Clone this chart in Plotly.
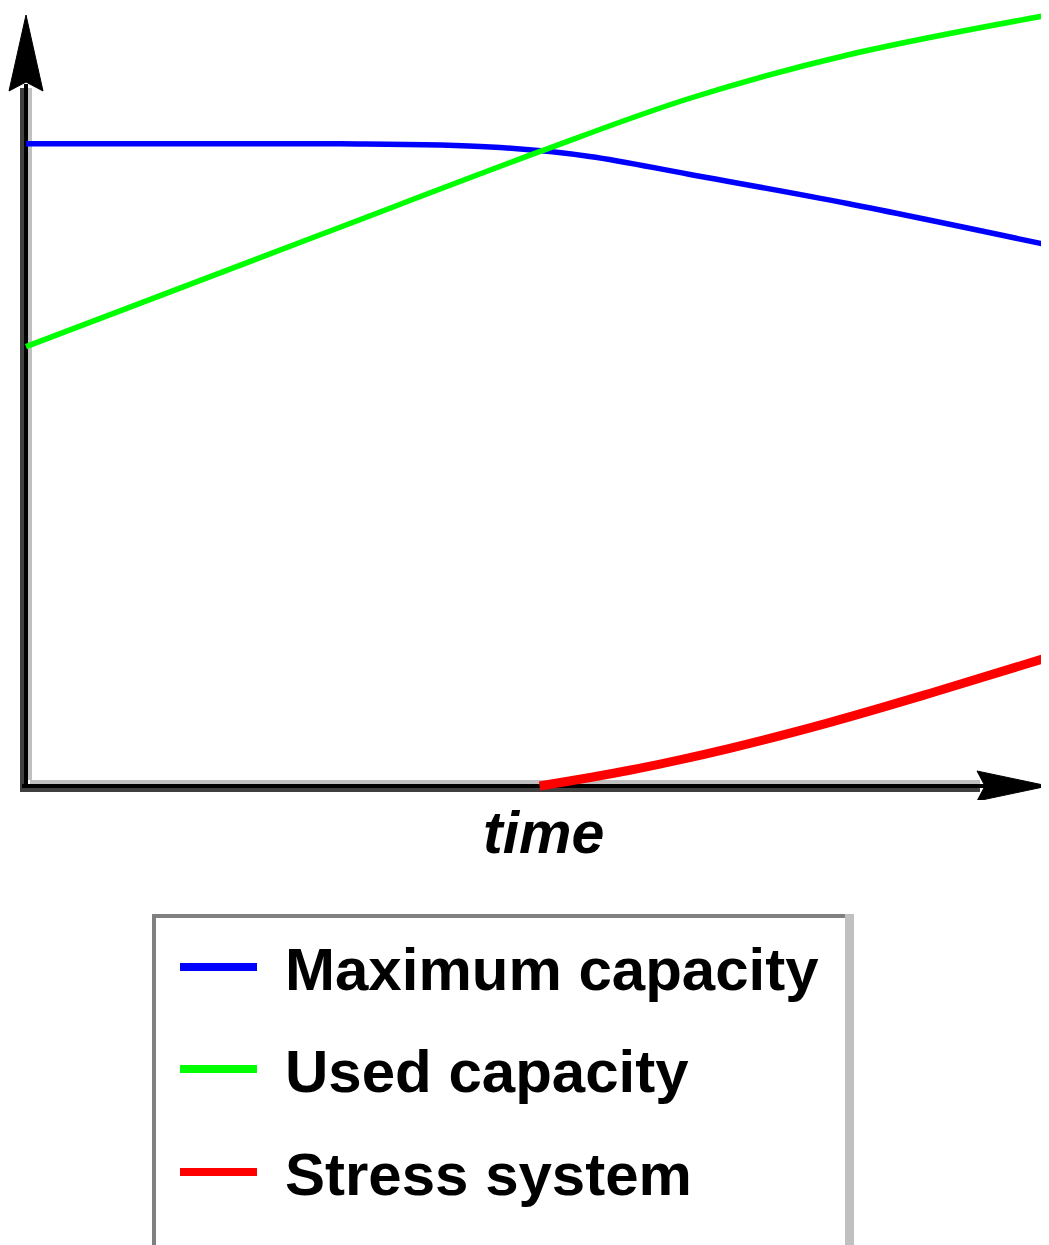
import plotly.graph_objects as go

# ---------------- data ----------------
time_max = [0, 17.0, 30.7, 45.4, 55.1, 64.9, 80.3, 100]
max_capacity = [81.7, 81.7, 81.7, 81.3, 80.1, 77.8, 74.1, 68.8]

time_used = [0, 28.7, 50.2, 64.9, 80.3, 100]
used_capacity = [55.9, 70.1, 80.7, 87.5, 93.0, 98.1]

time_stress = [50.2, 59.0, 68.8, 78.6, 88.4, 100]
stress_system = [0, 2.0, 4.8, 8.1, 11.8, 16.4]

series_names = ["Maximum capacity", "Used capacity", "Stress system"]
series_colors = ["#0000ff", "#00ff00", "#ff0000"]
series_widths = [5.5, 5.5, 9]
x_label = "time"

# ---------------- geometry (page pixels; page body has an 8px margin) ----------------
OFF = 8
W, H = 1049 - OFF, 1245 - OFF
PLOT_TOP, PLOT_BOTTOM = OFF, 800          # page px of the plot area
X0PX, XPPU = 26, 10.23                    # page px of x = 0, px per unit
Y0PX, YPPU = 786, 7.86                    # page px of y = 0, px per unit


def xd(px):
    return (px - X0PX) / XPPU


def yd(py):
    return (Y0PX - py) / YPPU


def xp(px):
    return (px - OFF) / W


def yp(py):
    return (PLOT_BOTTOM - py) / (PLOT_BOTTOM - PLOT_TOP)


FONT = "Liberation Sans, Arial, sans-serif"

fig = go.Figure()
for xs, ys, name, col, lw in zip(
    [time_max, time_used, time_stress],
    [max_capacity, used_capacity, stress_system],
    series_names, series_colors, series_widths,
):
    fig.add_trace(go.Scatter(
        x=xs, y=ys, mode="lines", name=name,
        line=dict(color=col, width=lw, shape="spline", smoothing=1.0),
        showlegend=False, hoverinfo="skip",
    ))

shapes = []
# y axis (3-band bevel)
for off, col, top, bot in [(-4, "#404040", 88, 792), (0, "#000000", 84, 788), (4, "#c0c0c0", 88, 780)]:
    shapes.append(dict(type="line", xref="x", yref="y", xsizemode="pixel", xanchor=0,
                       x0=off, x1=off, y0=yd(bot), y1=yd(top),
                       line=dict(color=col, width=4), layer="below"))
# x axis
for off, col, left, right in [(4, "#c0c0c0", 30, 980), (0, "#000000", 22, 985), (-4, "#404040", 20, 980)]:
    shapes.append(dict(type="line", xref="x", yref="y", ysizemode="pixel", yanchor=0,
                       y0=off, y1=off, x0=xd(left), x1=xd(right),
                       line=dict(color=col, width=4), layer="below"))
# arrow heads
shapes.append(dict(type="path", xref="x", yref="y", xsizemode="pixel", ysizemode="pixel",
                   xanchor=0, yanchor=yd(15),
                   path="M0,0 L17,-76 L0,-67 L-17,-76 Z",
                   fillcolor="#000000", line=dict(color="#000000", width=1), layer="below"))
shapes.append(dict(type="path", xref="x", yref="y", xsizemode="pixel", ysizemode="pixel",
                   xanchor=xd(1048), yanchor=0,
                   path="M0,0 L-71,15 L-63,0 L-71,-15 Z",
                   fillcolor="#000000", line=dict(color="#000000", width=1), layer="below"))

# legend box (bevel-style border)
shapes.append(dict(type="line", xref="paper", yref="paper", x0=xp(152), x1=xp(849),
                   y0=yp(916), y1=yp(916), line=dict(color="#808080", width=4)))
shapes.append(dict(type="line", xref="paper", yref="paper", x0=xp(154), x1=xp(154),
                   y0=yp(914), y1=yp(1260), line=dict(color="#808080", width=4)))
shapes.append(dict(type="line", xref="paper", yref="paper", x0=xp(849.5), x1=xp(849.5),
                   y0=yp(914), y1=yp(1260), line=dict(color="#c0c0c0", width=9)))

annotations = []
legend_rows = [967, 1069, 1172]
for name, col, row in zip(series_names, series_colors, legend_rows):
    shapes.append(dict(type="line", xref="paper", yref="paper", x0=xp(180), x1=xp(257),
                       y0=yp(row), y1=yp(row), line=dict(color=col, width=8)))
    annotations.append(dict(text=name, xref="paper", yref="paper", x=xp(283), y=yp(row + 2),
                            xanchor="left", yanchor="middle", showarrow=False,
                            font=dict(family=FONT, size=60, color="#000000", weight="bold")))

annotations.append(dict(text=x_label, xref="paper", yref="paper", x=xp(543), y=yp(833),
                        xanchor="center", yanchor="middle", showarrow=False,
                        font=dict(family=FONT, size=59, color="#000000", weight="bold",
                                  style="italic")))

fig.update_layout(
    width=W, height=H,
    margin=dict(l=0, r=0, t=0, b=H - (PLOT_BOTTOM - OFF), pad=0),
    paper_bgcolor="#ffffff", plot_bgcolor="#ffffff",
    xaxis=dict(range=[xd(OFF), xd(OFF + W)], visible=False, fixedrange=True),
    yaxis=dict(range=[yd(PLOT_BOTTOM), yd(PLOT_TOP)], visible=False, fixedrange=True),
    shapes=shapes, annotations=annotations,
    showlegend=False,
)

fig.write_html("out.html")
